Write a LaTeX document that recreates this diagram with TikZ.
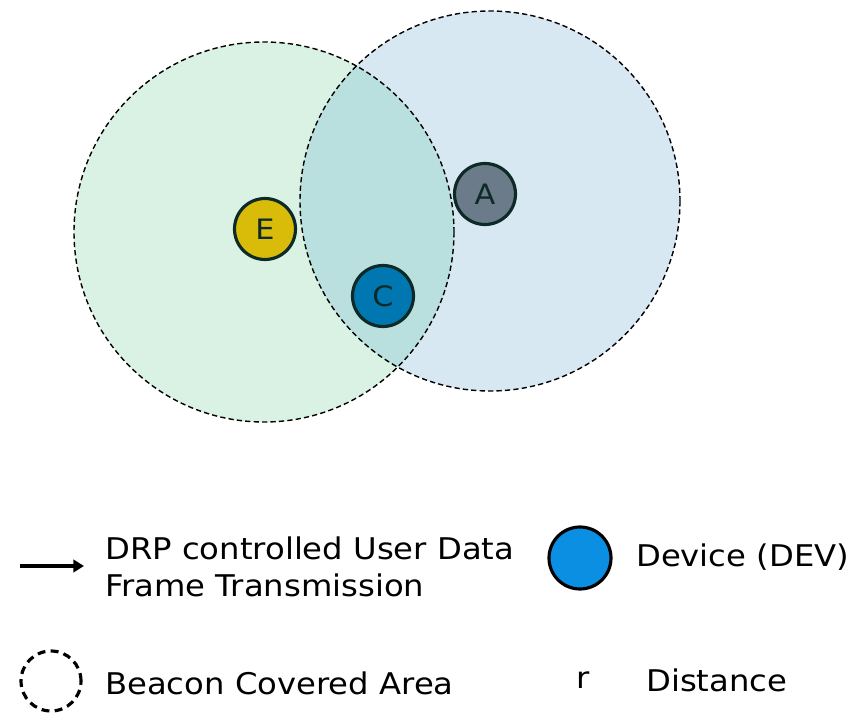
\documentclass[tikz,border=0pt]{standalone}
\usepackage{fontspec}
\setmainfont{DejaVu Sans}[FakeStretch=1.08]
\usetikzlibrary{arrows.meta}

\definecolor{areaEfill}{HTML}{DAF2E4}
\definecolor{areaAfill}{HTML}{D8E8F3}
\definecolor{areaboth}{HTML}{B9E0DE}
\definecolor{devline}{HTML}{0D2A26}
\definecolor{devE}{HTML}{D9BC0A}
\definecolor{devA}{HTML}{6B7B8A}
\definecolor{devC}{HTML}{0077B0}
\definecolor{devkey}{HTML}{0A8FE3}

\begin{document}
\begin{tikzpicture}[
    x=0.02cm, y=-0.02cm,
    area/.style={circle, minimum size=7.6cm, inner sep=0pt},
    arealine/.style={draw=black, line width=0.8pt, dash pattern=on 3pt off 1.8pt},
    dev/.style={circle, draw=devline, line width=1.8pt, minimum size=1.22cm,
                inner sep=0pt, font=\fontsize{16}{18}\selectfont, text=devline},
    key/.style={font=\fontsize{17}{21}\selectfont, align=left, anchor=west},
]
\useasboundingbox (0,0) rectangle (850,713);

% Beacon areas (pixel grid, origin top left)
\node[area, fill=areaEfill] at (264,232) (areaE) {};
\node[area, fill=areaAfill] at (490,201) (areaA) {};
\begin{scope}
    \clip (areaE.center) circle [radius=190];
    \fill[areaboth] (areaA.center) circle [radius=190];
\end{scope}
\draw[arealine] (areaE.center) circle [radius=190];
\draw[arealine] (areaA.center) circle [radius=190];

% Devices
\node[dev, fill=devE] at (265,229) (E) {E};
\node[dev, fill=devA] at (485,194) (A) {A};
\node[dev, fill=devC] at (383,296) (C) {C};

% Legend
\coordinate (arrS) at (20,566);
\coordinate (arrE) at (84,566);
\draw[line width=1.8pt, -{Triangle[length=6pt, width=7pt]}] (arrS) -- (arrE);
\node[key] at (99,567) (keyarr) {DRP controlled User Data\\Frame Transmission};

\node[circle, draw=black, line width=1.8pt, fill=devkey, minimum size=1.24cm,
      inner sep=0pt] at (580,558) (keydev) {};
\node[key] at (630,557) (keydevtxt) {Device (DEV)};

\node[circle, draw=black, line width=1.8pt, dash pattern=on 4.5pt off 3pt,
      minimum size=1.2cm, inner sep=0pt] at (51,681) (keyarea) {};
\node[key] at (99,683) (keyareatxt) {Beacon Covered Area};

\node[key, anchor=center] at (583,680) (keyr) {r};
\node[key] at (640,680) (keyrtxt) {Distance};
\end{tikzpicture}
\end{document}
